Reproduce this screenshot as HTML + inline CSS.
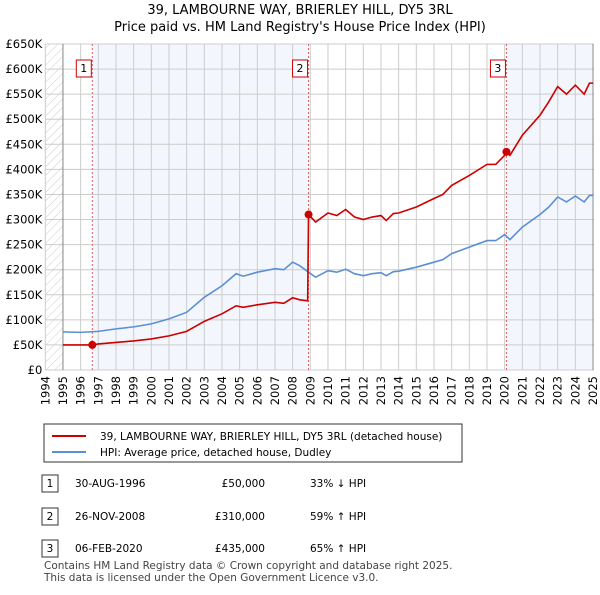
<!DOCTYPE html>
<html><head><meta charset="utf-8"><style>
body{margin:0;background:#fff;font-family:"Liberation Sans","DejaVu Sans",sans-serif;}
svg text{font-family:"DejaVu Sans","Liberation Sans",sans-serif;}
</style></head><body>
<svg id="c" width="600" height="590" xmlns="http://www.w3.org/2000/svg">
<defs><pattern id="hatch" patternUnits="userSpaceOnUse" width="6" height="6" patternTransform="rotate(45)"><line x1="0" y1="0" x2="0" y2="6" stroke="#ccc" stroke-width="1"/></pattern></defs>
<text x="300" y="14" text-anchor="middle" font-size="13">39, LAMBOURNE WAY, BRIERLEY HILL, DY5 3RL</text>
<text x="300" y="31" text-anchor="middle" font-size="13">Price paid vs. HM Land Registry's House Price Index (HPI)</text>
<g id="plot"></g>
<g>
<rect x="44" y="424" width="418" height="38" fill="#fff" stroke="#333"/>
<line x1="52" y1="436" x2="86" y2="436" stroke="#cc0000" stroke-width="2"/>
<text x="100" y="440" font-size="10.5">39, LAMBOURNE WAY, BRIERLEY HILL, DY5 3RL (detached house)</text>
<line x1="52" y1="452" x2="86" y2="452" stroke="#5b8fd4" stroke-width="2"/>
<text x="100" y="456" font-size="10.5">HPI: Average price, detached house, Dudley</text>
</g>
<g font-size="10.5">
<rect x="42" y="475" width="16" height="17" fill="#fff" stroke="#333"/><text x="50" y="487" text-anchor="middle">1</text>
<text x="75" y="487">30-AUG-1996</text><text x="265" y="487" text-anchor="end">£50,000</text><text x="310" y="487">33% ↓ HPI</text>
<rect x="42" y="508" width="16" height="17" fill="#fff" stroke="#333"/><text x="50" y="520" text-anchor="middle">2</text>
<text x="75" y="520">26-NOV-2008</text><text x="265" y="520" text-anchor="end">£310,000</text><text x="310" y="520">59% ↑ HPI</text>
<rect x="42" y="540" width="16" height="17" fill="#fff" stroke="#333"/><text x="50" y="552" text-anchor="middle">3</text>
<text x="75" y="552">06-FEB-2020</text><text x="265" y="552" text-anchor="end">£435,000</text><text x="310" y="552">65% ↑ HPI</text>
</g>
<text x="44" y="569" font-size="10.5" fill="#444">Contains HM Land Registry data © Crown copyright and database right 2025.</text>
<text x="44" y="581" font-size="10.5" fill="#444">This data is licensed under the Open Government Licence v3.0.</text>
</svg>
<script>
const hpiYears=[1995,1996,1997,1998,1999,2000,2001,2002,2003,2004,2004.8,2005.2,2006,2007,2007.5,2008,2008.4,2008.9,2009.3,2010,2010.5,2011,2011.5,2012,2012.5,2013,2013.3,2013.7,2014,2015,2016,2016.5,2017,2018,2019,2019.5,2020,2020.3,2021,2022,2022.5,2023,2023.5,2024,2024.5,2024.8,2025];
const hpiValues=[76,75,77,82,86,92,102,115,145,168,192,187,195,202,200,215,208,195,185,198,195,201,192,188,192,194,188,196,197,205,215,220,232,245,258,258,270,260,285,310,325,345,335,347,335,348,348];
const propYears=[1995,1996,1996.66,1997,1998,1999,2000,2001,2002,2003,2004,2004.8,2005.2,2006,2007,2007.5,2008,2008.4,2008.85,2008.9,2009.3,2010,2010.5,2011,2011.5,2012,2012.5,2013,2013.3,2013.7,2014,2015,2016,2016.5,2017,2018,2019,2019.5,2020,2020.1,2020.3,2021,2022,2022.5,2023,2023.5,2024,2024.5,2024.8,2025];
const propValues=[50,50,50,52,55,58,62,68,77,97,112,128,125,130,135,133,144,140,138,310,295,313,308,320,305,300,305,308,298,312,313,325,342,350,368,388,410,410,428,435,428,468,508,535,565,550,568,550,572,572];
const saleYears=[1996.66,2008.9,2020.1];
const saleValues=[50,310,435];
const saleLabels=["1","2","3"];
const yTicks=[0,50,100,150,200,250,300,350,400,450,500,550,600,650];
const xTicks=[1994,1995,1996,1997,1998,1999,2000,2001,2002,2003,2004,2005,2006,2007,2008,2009,2010,2011,2012,2013,2014,2015,2016,2017,2018,2019,2020,2021,2022,2023,2024,2025];
const L=45.3,R=594,T=44,B=370;
const x=v=>L+(v-1994)*(593-45.3)/31;
const y=v=>B-v*(B-T)/650;
const NS="http://www.w3.org/2000/svg";
const g=document.getElementById('plot');
function mk(t,a,p){const e=document.createElementNS(NS,t);for(const k in a)e.setAttribute(k,a[k]);(p||g).appendChild(e);return e;}
let e;
e=mk('rect',{x:L,y:T,width:R-L,height:B-T,fill:'#fff'});


e=mk('rect',{x:L,y:T,width:x(1995)-L,height:B-T,fill:'url(#hatch)'});


e=mk('rect',{x:x(saleYears[0]),y:T,width:x(saleYears[1])-x(saleYears[0]),height:B-T,fill:'#eef3fc',opacity:0.7});


e=mk('rect',{x:x(saleYears[2]),y:T,width:x(2025)-x(saleYears[2]),height:B-T,fill:'#eef3fc',opacity:0.7});


yTicks.forEach(v=>{
 e=mk('line',{x1:L,x2:R,y1:y(v),y2:y(v),stroke:'#ccc'});
 
 
 e=mk('text',{x:L-3,y:y(v)+4,'text-anchor':'end','font-size':'11.5'});
 e.textContent=v===0?'£0':'£'+v+'K';
 
 
});
xTicks.forEach(v=>{
 e=mk('line',{x1:x(v),x2:x(v),y1:T,y2:B,stroke:'#ccc'});
 
 
 e=mk('text',{x:0,y:0,'text-anchor':'end','font-size':'11.5',transform:`translate(${x(v)+4},${B+6}) rotate(-90)`});
 e.textContent=v;
 
 
});
e=mk('line',{x1:x(1995),x2:x(1995),y1:T,y2:B,stroke:'#888'});


e=mk('line',{x1:x(2025),x2:x(2025),y1:T,y2:B,stroke:'#888'});


saleYears.forEach((v,i)=>{
 e=mk('line',{x1:x(v),x2:x(v),y1:T,y2:B,stroke:'#e06060','stroke-dasharray':'2,2'});
 
 
 e=mk('rect',{x:x(v)-16,y:60,width:15,height:17,fill:'#fff',stroke:'#c00'});
 
 
 e=mk('text',{x:x(v)-8.5,y:72,'text-anchor':'middle','font-size':'11'});
 e.textContent=saleLabels[i];
 
 
});
e=mk('polyline',{points:hpiYears.map((v,i)=>x(v)+','+y(hpiValues[i])).join(' '),fill:'none',stroke:'#5b8fd4','stroke-width':1.6});


e=mk('polyline',{points:propYears.map((v,i)=>x(v)+','+y(propValues[i])).join(' '),fill:'none',stroke:'#cc0000','stroke-width':1.6});


saleYears.forEach((v,i)=>{
 e=mk('circle',{cx:x(v),cy:y(saleValues[i]),r:4,fill:'#cc0000'});
 
 
});
</script>
</body></html>
